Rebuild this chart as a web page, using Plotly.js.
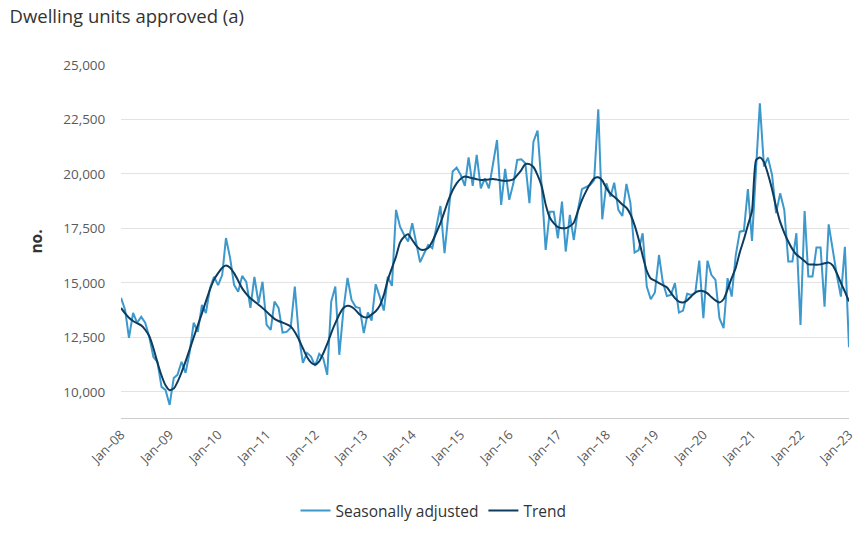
<!DOCTYPE html>
<html>
<head>
<meta charset="utf-8">
<script src="https://cdn.plot.ly/plotly-3.0.1.min.js"></script>
<style>
  html, body { margin: 0; padding: 0; background: #ffffff; }
  #chart { width: 867px; height: 534px; }
</style>
</head>
<body>
<div id="chart"></div>
<script>
// Monthly periods Jan-2008 .. Jan-2023
const firstYear = 2008;
const lastYear = 2023;

// Seasonally adjusted dwelling units approved (no.), Jan-08 .. Jan-23
const seasonallyAdjusted = [
  14310, 13760, 12480, 13620, 13170, 13440, 13170, 12520, 11600, 11380, 10230, 10090, // 2008
  9400, 10640, 10780, 11380, 10870, 11830, 13170, 12750, 13990, 13620, 14770, 15280,  // 2009
  14900, 15370, 17060, 16150, 14910, 14590, 15320, 15050, 13850, 15280, 14080, 15050, // 2010
  13070, 12840, 14140, 13850, 12720, 12750, 12940, 14830, 12540, 11330, 11790, 11620, // 2011
  11190, 11740, 11560, 10780, 14140, 14830, 11700, 13760, 15230, 14220, 13900, 13850, // 2012
  12700, 13640, 13270, 14940, 14370, 13730, 15290, 14860, 18350, 17580, 17200, 16900, // 2013
  17740, 16740, 15950, 16360, 16740, 16590, 17510, 18530, 16360, 18200, 20110, 20290, // 2014
  19950, 19450, 20760, 19450, 20870, 19340, 19800, 19340, 20490, 21560, 18580, 20230, // 2015
  18810, 19570, 20640, 20670, 20490, 18660, 21480, 21990, 19420, 16510, 18270, 18270, // 2016
  17050, 18730, 16440, 18120, 16970, 18350, 19300, 19390, 19500, 19720, 22970, 17920, // 2017
  19570, 18960, 19600, 18350, 18070, 19540, 18660, 16390, 16510, 17280, 14830, 14250, // 2018
  14560, 16280, 15060, 14400, 14450, 14990, 13640, 13730, 14500, 14450, 14530, 16020, // 2019
  13380, 16020, 15370, 15140, 13380, 12920, 15220, 14370, 16280, 17350, 17390, 19310, // 2020
  16930, 20300, 23240, 20340, 20750, 19950, 18200, 19110, 18350, 15980, 15980, 17280, // 2021
  13070, 18300, 15290, 15290, 16620, 16620, 13910, 17690, 16440, 15370, 14370, 16660, // 2022
  12050                                                                               // 2023
];

// Trend dwelling units approved (no.), Jan-08 .. Jan-23
const trend = [
  13850, 13600, 13400, 13250, 13150, 13050, 12850, 12550, 12000, 11350, 10750, 10300, // 2008
  10080, 10150, 10450, 10900, 11400, 11950, 12500, 13050, 13600, 14150, 14700, 15150, // 2009
  15450, 15700, 15800, 15700, 15450, 15100, 14750, 14500, 14300, 14150, 14000, 13850, // 2010
  13680, 13500, 13350, 13250, 13180, 13100, 13000, 12750, 12400, 12000, 11600, 11350, // 2011
  11250, 11400, 11750, 12200, 12700, 13150, 13550, 13850, 13950, 13900, 13750, 13550, // 2012
  13430, 13420, 13550, 13700, 13950, 14450, 15140, 15680, 16210, 16850, 17120, 17230, // 2013
  16970, 16700, 16540, 16520, 16600, 16900, 17300, 17740, 18280, 18810, 19250, 19570, // 2014
  19780, 19880, 19850, 19800, 19760, 19720, 19730, 19750, 19770, 19740, 19700, 19680, // 2015
  19700, 19750, 19950, 20180, 20450, 20450, 20320, 19950, 19450, 18600, 18000, 17740, // 2016
  17560, 17510, 17510, 17600, 17760, 18300, 18800, 19200, 19550, 19800, 19850, 19700, // 2017
  19350, 19100, 18950, 18780, 18600, 18450, 18150, 17650, 17000, 16250, 15550, 15200, // 2018
  15100, 14990, 14900, 14800, 14550, 14300, 14140, 14100, 14200, 14380, 14560, 14630, // 2019
  14620, 14520, 14350, 14200, 14100, 14250, 14700, 15220, 15700, 16400, 17000, 17650, // 2020
  18300, 20640, 20750, 20550, 20000, 19300, 18500, 17800, 17300, 16900, 16550, 16300, // 2021
  16150, 16000, 15850, 15850, 15830, 15850, 15900, 15930, 15800, 15450, 15000, 14600, // 2022
  14150                                                                               // 2023
];

// X tick labels (one per January)
const tickLabels = ['Jan\u201308','Jan\u201309','Jan\u201310','Jan\u201311','Jan\u201312','Jan\u201313','Jan\u201314','Jan\u201315',
  'Jan\u201316','Jan\u201317','Jan\u201318','Jan\u201319','Jan\u201320','Jan\u201321','Jan\u201322','Jan\u201323'];

// Build month date strings for the category periods
const months = [];
for (let y = firstYear; y <= lastYear; y++) {
  for (let m = 1; m <= 12; m++) {
    if (y === lastYear && m > 1) break;
    months.push(y + '-' + String(m).padStart(2, '0') + '-01');
  }
}
const tickVals = [];
for (let y = firstYear; y <= lastYear; y++) tickVals.push(y + '-01-01');

const fontFamily = '"Open Sans", "Segoe UI", "DejaVu Sans", sans-serif';

const traces = [
  {
    type: 'scatter', mode: 'lines', name: 'Seasonally adjusted',
    x: months, y: seasonallyAdjusted,
    line: { color: '#3d98cc', width: 2 },
    hoverinfo: 'x+y'
  },
  {
    type: 'scatter', mode: 'lines', name: 'Trend',
    x: months, y: trend,
    line: { color: '#0d3c5f', width: 2, shape: 'spline', smoothing: 0.6 },
    hoverinfo: 'x+y'
  }
];

const layout = {
  width: 867, height: 534,
  paper_bgcolor: '#ffffff', plot_bgcolor: '#ffffff',
  font: { family: fontFamily, color: '#333333' },
  margin: { l: 121, r: 18, t: 65, b: 116 },
  title: {
    text: 'Dwelling units approved (a)',
    font: { family: fontFamily, size: 18.5, color: '#333333' },
    xref: 'container', x: 0.011, xanchor: 'left',
    yref: 'container', y: 0.982, yanchor: 'top'
  },
  showlegend: true,
  legend: {
    orientation: 'h',
    xref: 'container', x: 0.5, xanchor: 'center',
    yref: 'container', y: 0.043, yanchor: 'middle',
    font: { family: fontFamily, size: 15.5, color: '#333333' },
    itemwidth: 30
  },
  xaxis: {
    type: 'date',
    range: ['2008-01-01', '2023-01-01'],
    tickmode: 'array', tickvals: tickVals, ticktext: tickLabels,
    tickangle: -45,
    tickfont: { family: fontFamily, size: 13, color: '#5a5a5a' },
    showgrid: false, zeroline: false,
    showline: true, linecolor: '#cccccc', linewidth: 1,
    ticks: 'outside', ticklen: 3, tickcolor: 'rgba(0,0,0,0)', fixedrange: true
  },
  yaxis: {
    range: [8800, 25000],
    tickmode: 'linear', tick0: 10000, dtick: 2500,
    tickformat: ',d',
    tickfont: { family: fontFamily, size: 13.5, color: '#5a5a5a' },
    showgrid: true, gridcolor: '#e3e3e3', gridwidth: 1,
    zeroline: false, showline: false,
    ticks: 'outside', ticklen: 12, tickcolor: 'rgba(0,0,0,0)',
    title: { text: 'no.', font: { family: fontFamily, size: 15.5, color: '#333333', weight: 'bold' }, standoff: 16 },
    fixedrange: true
  }
};

Plotly.newPlot('chart', traces, layout, { displayModeBar: false, staticPlot: true });
</script>
</body>
</html>
